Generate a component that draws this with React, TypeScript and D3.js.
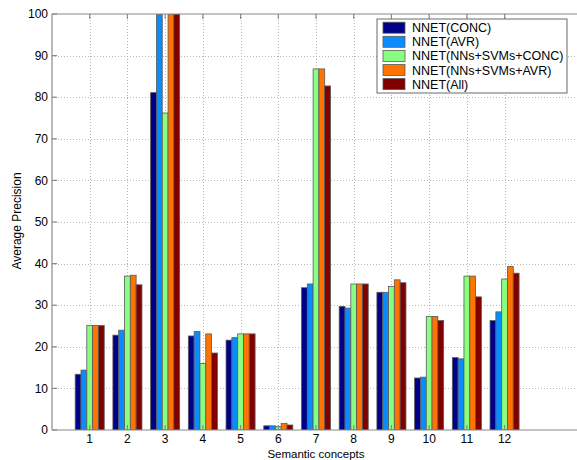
import React from 'react';
import * as d3 from 'd3';

const concepts = ['1', '2', '3', '4', '5', '6', '7', '8', '9', '10', '11', '12'];
const seriesNames = ['NNET(CONC)', 'NNET(AVR)', 'NNET(NNs+SVMs+CONC)', 'NNET(NNs+SVMs+AVR)', 'NNET(All)'];
const seriesColors = ['#000088', '#0a8cff', '#88ff80', '#ff7400', '#800000'];

const conc = [13.4, 22.8, 81.1, 22.6, 21.6, 1.0, 34.2, 29.7, 33.1, 12.5, 17.4, 26.3];
const avr = [14.4, 24.0, 100, 23.7, 22.2, 1.0, 35.1, 29.3, 33.1, 12.7, 17.1, 28.4];
const nnsConc = [25.1, 37.0, 76.2, 16.0, 23.1, 0.8, 86.8, 35.1, 34.5, 27.3, 37.0, 36.3];
const nnsAvr = [25.1, 37.2, 100, 23.1, 23.1, 1.6, 86.8, 35.1, 36.1, 27.3, 37.0, 39.3];
const all = [25.1, 34.9, 100, 18.5, 23.1, 1.2, 82.7, 35.1, 35.4, 26.3, 32.0, 37.7];

const yTicks = [0, 10, 20, 30, 40, 50, 60, 70, 80, 90, 100];

const W = 577;
const H = 460;

export default function App() {
  const series = [conc, avr, nnsConc, nnsAvr, all];

  const x = d3.scaleLinear().domain([0, 14]).range([52, 580]);
  const y = d3.scaleLinear().domain([0, 100]).range([430, 14]);
  // bars inside a group, like matlab's grouped bar
  const inner = d3.scaleBand<number>()
    .domain(d3.range(series.length))
    .range([-0.385, 0.385])
    .padding(0);

  const left = x(0);
  const right = x(14);
  const top = y(100);
  const bottom = y(0);
  const font = 'Liberation Sans, Arial, sans-serif';

  return (
    <div style={{ position: 'absolute', left: 0, top: 0 }}>
      <svg width={W} height={H} style={{ display: 'block', background: '#fff' }}>
        <defs>
          <clipPath id="plot">
            <rect x={left} y={top} width={right - left} height={bottom - top} />
          </clipPath>
        </defs>

        {/* grid */}
        <g stroke="#b8b8b8" strokeWidth={1} strokeDasharray="1,2">
          {yTicks.slice(1, -1).map((t) => (
            <line key={'gy' + t} x1={left} x2={right} y1={Math.round(y(t)) + 0.5} y2={Math.round(y(t)) + 0.5} />
          ))}
          {concepts.map((c, i) => (
            <line key={'gx' + c} x1={Math.round(x(i + 1)) + 0.5} x2={Math.round(x(i + 1)) + 0.5} y1={top} y2={bottom} />
          ))}
        </g>

        {/* bars */}
        <g clipPath="url(#plot)">
          {series.map((vals, s) =>
            vals.map((v, i) => {
              const x0 = x(i + 1 + (inner(s) as number));
              const x1 = x(i + 1 + (inner(s) as number) + inner.bandwidth());
              return (
                <rect
                  key={s + '-' + i}
                  x={x0}
                  y={y(v)}
                  width={x1 - x0}
                  height={bottom - y(v)}
                  fill={seriesColors[s]}
                  stroke="#5a5a5a"
                  strokeWidth={0.8}
                />
              );
            })
          )}
        </g>

        {/* axes */}
        <g stroke="#8a8a8a" strokeWidth={1.2} fill="none">
          <line x1={left} x2={right} y1={bottom} y2={bottom} />
          <line x1={left} x2={right} y1={top} y2={top} />
          <line x1={left} x2={left} y1={top} y2={bottom} />
          {yTicks.map((t) => (
            <line key={'ty' + t} x1={left} x2={left + 5} y1={y(t)} y2={y(t)} />
          ))}
          {concepts.map((c, i) => (
            <g key={'tx' + c}>
              <line x1={x(i + 1)} x2={x(i + 1)} y1={bottom} y2={bottom - 5} />
              <line x1={x(i + 1)} x2={x(i + 1)} y1={top} y2={top + 5} />
            </g>
          ))}
        </g>

        {/* tick labels */}
        <g fontFamily={font} fontSize={12} fill="#000">
          {yTicks.map((t) => (
            <text key={'ly' + t} x={left - 4} y={y(t) + 4.2} textAnchor="end">
              {t}
            </text>
          ))}
          {concepts.map((c, i) => (
            <text key={'lx' + c} x={x(i + 1)} y={443} textAnchor="middle">
              {c}
            </text>
          ))}
          <text x={(left + right) / 2} y={457.5} fontSize={11.5} textAnchor="middle">
            Semantic concepts
          </text>
          <text transform={`translate(21,221) rotate(-90)`} textAnchor="middle">
            Average Precision
          </text>
        </g>

        {/* legend */}
        <g fontFamily={font} fontSize={12.5}>
          <rect x={377} y={19} width={190} height={74} fill="#fff" stroke="#6a6a6a" strokeWidth={1} />
          {seriesNames.map((name, s) => (
            <g key={name} transform={`translate(383,${27.7 + s * 14.1})`}>
              <rect x={0} y={-5.5} width={22} height={11} fill={seriesColors[s]} stroke="#5a5a5a" strokeWidth={0.8} />
              <text x={29} y={0} dy="0.36em" fill="#000">
                {name}
              </text>
            </g>
          ))}
        </g>
      </svg>
    </div>
  );
}
